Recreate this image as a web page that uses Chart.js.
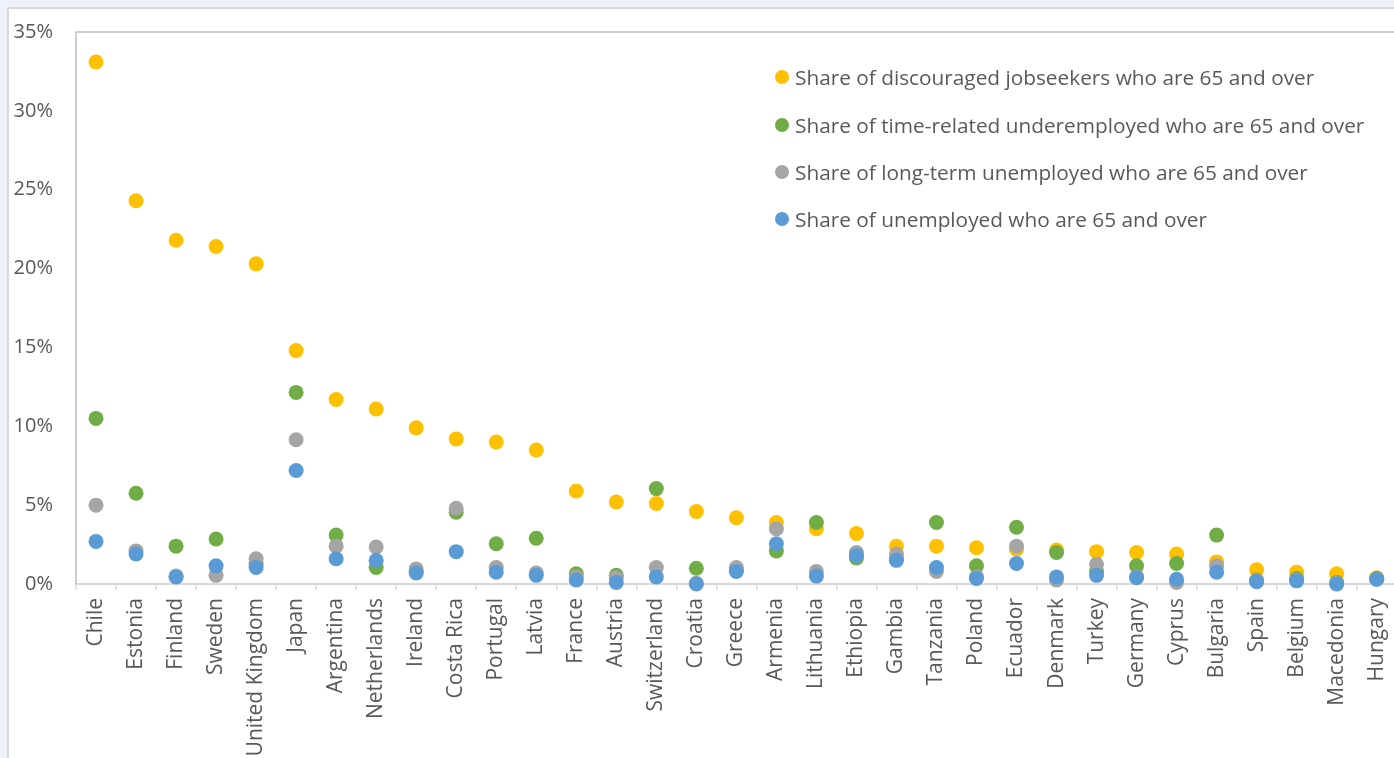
<!DOCTYPE html>
<html>
<head>
<meta charset="utf-8">
<script src="https://cdn.jsdelivr.net/npm/chart.js@4/dist/chart.umd.min.js"></script>
<style>
  html, body { margin: 0; padding: 0; width: 1394px; height: 758px; overflow: hidden; background: #eef3fb; font-family: "Open Sans", sans-serif; }
  #frame { position: absolute; left: 7px; top: 7px; width: 1400px; height: 760px; background: #fff; border-left: 2px solid #d9d9d9; border-top: 2px solid #d9d9d9; }
  #chart { position: absolute; left: 0; top: -3px; }
  #legend { position: absolute; left: 775px; top: 0; margin: 0; padding: 0; list-style: none; }
  #legend li { position: absolute; left: 0; white-space: nowrap; font-size: 20.8px; color: #595959; line-height: 26px; height: 26px; }
  #legend .dot { position: absolute; left: 0; top: 6px; width: 14px; height: 14px; border-radius: 50%; }
  #legend .txt { position: absolute; left: 20px; top: 0; }
</style>
</head>
<body>
<div id="frame"></div>
<canvas id="chart" width="1410" height="761"></canvas>
<ul id="legend"></ul>
<script>
// Countries along the x axis
const countries = ['Chile','Estonia','Finland','Sweden','United Kingdom','Japan','Argentina','Netherlands','Ireland','Costa Rica','Portugal','Latvia','France','Austria','Switzerland','Croatia','Greece','Armenia','Lithuania','Ethiopia','Gambia','Tanzania','Poland','Ecuador','Denmark','Turkey','Germany','Cyprus','Bulgaria','Spain','Belgium','Macedonia','Hungary'];

// Shares (%) of each group who are 65 and over
const discouraged = [33.1,24.3,21.8,21.4,20.3,14.8,11.7,11.1,9.9,9.2,9.0,8.5,5.9,5.2,5.1,4.6,4.2,3.9,3.5,3.2,2.4,2.4,2.3,2.2,2.15,2.05,2.0,1.9,1.4,0.9,0.75,0.65,0.4];
const underemployed = [10.5,5.75,2.4,2.85,1.3,12.15,3.1,1.05,0.8,4.55,2.55,2.9,0.65,0.55,6.05,1.0,0.9,2.1,3.9,1.65,1.6,3.9,1.15,3.6,2.0,0.8,1.15,1.3,3.1,0.25,0.35,0.1,0.35];
const longTerm = [5.0,2.1,0.5,0.55,1.6,9.15,2.4,2.35,0.95,4.8,1.05,0.7,0.45,0.4,1.05,0.05,1.05,3.5,0.8,2.0,1.9,0.8,0.45,2.4,0.25,1.25,0.45,0.1,1.15,0.2,0.25,0.05,0.3];
const unemployed = [2.7,1.9,0.45,1.15,1.05,7.2,1.6,1.5,0.7,2.05,0.75,0.55,0.25,0.1,0.45,0.0,0.8,2.55,0.5,1.8,1.5,1.05,0.35,1.3,0.45,0.55,0.4,0.3,0.75,0.15,0.2,0.0,0.3];

// Series names
const seriesNames = [
  'Share of discouraged jobseekers who are 65 and over',
  'Share of time-related underemployed who are 65 and over',
  'Share of long-term unemployed who are 65 and over',
  'Share of unemployed who are 65 and over'
];

// Y axis tick values
const yTicks = [0, 5, 10, 15, 20, 25, 30, 35];

const colors = ['#FFC000', '#70AD47', '#A5A5A5', '#5B9BD5'];
const seriesData = [discouraged, underemployed, longTerm, unemployed];

const textColor = '#595959';
const yFont = { family: '"Open Sans", sans-serif', size: 20 };
const xFont = { family: '"Open Sans", sans-serif', size: 21 };

// Outline of the plotting area (top and left edges are visible)
const plotFrame = {
  id: 'plotFrame',
  beforeDatasetsDraw(chart) {
    const { ctx, chartArea: a } = chart;
    ctx.save();
    ctx.strokeStyle = '#bfbfbf';
    ctx.lineWidth = 1.5;
    ctx.beginPath();
    ctx.moveTo(a.left, a.bottom);
    ctx.lineTo(a.left, a.top);
    ctx.lineTo(a.right + 20, a.top);
    ctx.stroke();
    ctx.restore();
  }
};

const datasets = seriesData.map((d, i) => ({
  label: seriesNames[i],
  data: d,
  showLine: false,
  pointRadius: 7.5,
  pointHoverRadius: 7.5,
  pointBorderWidth: 0,
  pointBackgroundColor: colors[i],
  backgroundColor: colors[i],
  borderColor: colors[i],
  order: seriesData.length - i,
  clip: false
}));

new Chart(document.getElementById('chart'), {
  type: 'line',
  data: { labels: countries, datasets },
  options: {
    responsive: false,
    animation: false,
    events: [],
    layout: { padding: { left: 0, top: 28, right: 0, bottom: 0 } },
    plugins: { legend: { display: false }, tooltip: { enabled: false } },
    scales: {
      x: {
        type: 'category',
        offset: true,
        grid: { display: true, offset: true, drawOnChartArea: false, drawTicks: true, tickLength: 6, color: '#d9d9d9', lineWidth: 1.5 },
        border: { display: true, color: '#d9d9d9', width: 2 },
        ticks: { autoSkip: false, minRotation: 90, maxRotation: 90, padding: 8, color: textColor, font: xFont },
        afterFit(scale) { scale.height = 174; }
      },
      y: {
        min: 0,
        max: 35,
        afterBuildTicks(scale) { scale.ticks = yTicks.map(v => ({ value: v })); },
        grid: { display: false, drawTicks: false },
        border: { display: false },
        ticks: { padding: 23, color: textColor, font: yFont, callback: v => v + '%' },
        afterFit(scale) { scale.width = 76; }
      }
    }
  },
  plugins: [plotFrame]
});

// Legend placed inside the plot, top right
const legendTops = [64, 112, 159, 206];
const ul = document.getElementById('legend');
seriesNames.forEach((name, i) => {
  const li = document.createElement('li');
  li.style.top = legendTops[i] + 'px';
  const dot = document.createElement('span');
  dot.className = 'dot';
  dot.style.background = colors[i];
  const txt = document.createElement('span');
  txt.className = 'txt';
  txt.textContent = name;
  li.appendChild(dot);
  li.appendChild(txt);
  ul.appendChild(li);
});
</script>
</body>
</html>
